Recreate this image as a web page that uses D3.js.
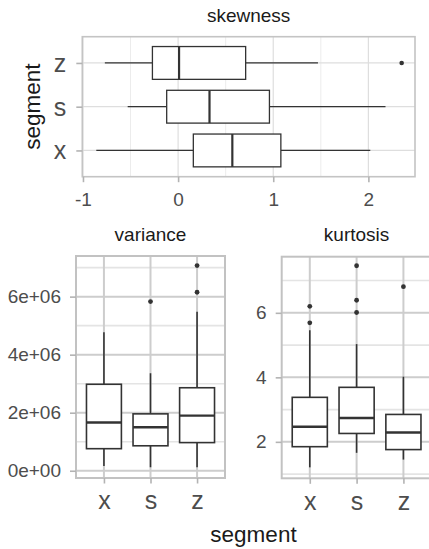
<!DOCTYPE html>
<html>
<head>
<meta charset="utf-8">
<script src="https://cdn.jsdelivr.net/npm/d3@7"></script>
<style>
  body { margin: 0; background: #fff; }
  svg { display: block; font-family: "Liberation Sans", Arial, sans-serif; }
</style>
</head>
<body>
<div id="chart"></div>
<script>
// Data: [lower whisker, Q1, median, Q3, upper whisker]
var segments = ["x", "s", "z"];

var skewness = [[-0.86, 0.16, 0.57, 1.08, 2.02],
                [-0.53, -0.12, 0.33, 0.96, 2.18],
                [-0.77, -0.27, 0.01, 0.71, 1.47]];
var skewnessOutliers = [[], [], [2.35]];
var skewnessTicks = [-1, 0, 1, 2];
var skewnessMinor = [-0.5, 0.5, 1.5];

var variance = [[0.16e6, 0.76e6, 1.66e6, 2.98e6, 4.77e6],
                [0.12e6, 0.86e6, 1.50e6, 1.96e6, 3.36e6],
                [0.12e6, 0.97e6, 1.90e6, 2.86e6, 5.48e6]];
var varianceOutliers = [[], [5.83e6], [6.15e6, 7.07e6]];
var varianceTicks = [0, 2e6, 4e6, 6e6];
var varianceLabels = ["0e+00", "2e+06", "4e+06", "6e+06"];
var varianceMinor = [1e6, 3e6, 5e6, 7e6];

var kurtosis = [[1.21, 1.85, 2.47, 3.38, 5.46],
                [1.66, 2.26, 2.74, 3.69, 5.03],
                [1.45, 1.76, 2.29, 2.85, 4.02]];
var kurtosisOutliers = [[5.69, 6.20], [6.01, 6.39, 7.46], [6.81]];
var kurtosisTicks = [2, 4, 6];
var kurtosisMinor = [1, 3, 5, 7];

var svg = d3.select("#chart")
            .append("svg")
            .attr("width", 429)
            .attr("height", 549);

var boxColor = "#333333",
    labelColor = "#4d4d4d";

// ---------- top panel: skewness (horizontal boxes) ----------
var tp = { left: 82.3, right: 415, top: 36.7, bottom: 176.7 };

var xSkew = d3.scaleLinear()
              .domain([-1.007, 2.49])
              .range([tp.left, tp.right]);

var ySkew = d3.scalePoint()
              .domain(["z", "s", "x"])
              .range([tp.top, tp.bottom])
              .padding(0.6);

var gTop = svg.append("g");

gTop.append("rect")
    .attr("x", tp.left).attr("y", tp.top)
    .attr("width", tp.right - tp.left).attr("height", tp.bottom - tp.top)
    .attr("fill", "#fff");

// grid
gTop.selectAll(".minor").data(skewnessMinor).enter().append("line")
    .attr("x1", xSkew).attr("x2", xSkew)
    .attr("y1", tp.top).attr("y2", tp.bottom)
    .attr("stroke", "#ececec").attr("stroke-width", 1);
gTop.selectAll(".majorx").data(skewnessTicks).enter().append("line")
    .attr("x1", xSkew).attr("x2", xSkew)
    .attr("y1", tp.top).attr("y2", tp.bottom)
    .attr("stroke", "#dedede").attr("stroke-width", 1.2);
gTop.selectAll(".majory").data(segments).enter().append("line")
    .attr("x1", tp.left).attr("x2", tp.right)
    .attr("y1", ySkew).attr("y2", ySkew)
    .attr("stroke", "#dedede").attr("stroke-width", 1.2);

// boxes
var bh = ySkew.step() * 0.75;
var rows = gTop.selectAll(".row")
               .data(segments)
               .enter()
               .append("g");

rows.append("line")
    .attr("x1", function(d, i) { return xSkew(skewness[i][0]); })
    .attr("x2", function(d, i) { return xSkew(skewness[i][1]); })
    .attr("y1", ySkew).attr("y2", ySkew);
rows.append("line")
    .attr("x1", function(d, i) { return xSkew(skewness[i][3]); })
    .attr("x2", function(d, i) { return xSkew(skewness[i][4]); })
    .attr("y1", ySkew).attr("y2", ySkew);
rows.selectAll("line")
    .attr("stroke", boxColor).attr("stroke-width", 1.3);

rows.append("rect")
    .attr("x", function(d, i) { return xSkew(skewness[i][1]); })
    .attr("width", function(d, i) { return xSkew(skewness[i][3]) - xSkew(skewness[i][1]); })
    .attr("y", function(d) { return ySkew(d) - bh / 2; })
    .attr("height", bh)
    .attr("fill", "#fff").attr("stroke", boxColor).attr("stroke-width", 1.3);

rows.append("line")
    .attr("x1", function(d, i) { return xSkew(skewness[i][2]); })
    .attr("x2", function(d, i) { return xSkew(skewness[i][2]); })
    .attr("y1", function(d) { return ySkew(d) - bh / 2; })
    .attr("y2", function(d) { return ySkew(d) + bh / 2; })
    .attr("stroke", boxColor).attr("stroke-width", 2.2);

rows.selectAll("circle")
    .data(function(d, i) { return skewnessOutliers[i].map(function(v) { return [d, v]; }); })
    .enter().append("circle")
    .attr("cx", function(p) { return xSkew(p[1]); })
    .attr("cy", function(p) { return ySkew(p[0]); })
    .attr("r", 2.3).attr("fill", boxColor);

gTop.append("rect")
    .attr("x", tp.left).attr("y", tp.top)
    .attr("width", tp.right - tp.left).attr("height", tp.bottom - tp.top)
    .attr("fill", "none").attr("stroke", "#c4c4c4").attr("stroke-width", 1.6);

// axes
var xAxisTop = d3.axisBottom(xSkew)
                 .tickValues(skewnessTicks)
                 .tickFormat(String)
                 .tickSizeInner(5.5).tickSizeOuter(0).tickPadding(10);
var yAxisTop = d3.axisLeft(ySkew)
                 .tickSizeInner(6).tickSizeOuter(0).tickPadding(10);

gTop.append("g")
    .attr("transform", "translate(0," + tp.bottom + ")")
    .call(xAxisTop)
    .call(function(g) { g.selectAll("text").style("font-size", "19px"); });
gTop.append("g")
    .attr("transform", "translate(" + tp.left + ",0)")
    .call(yAxisTop)
    .call(function(g) { g.selectAll("text").style("font-size", "25px").attr("dy", "0.34em"); });

gTop.append("text")
    .attr("x", (tp.left + tp.right) / 2).attr("y", 21.7)
    .attr("text-anchor", "middle")
    .style("font-size", "19px").attr("fill", "#1a1a1a")
    .text("skewness");

gTop.append("text")
    .attr("transform", "translate(40," + ((tp.top + tp.bottom) / 2) + ") rotate(-90)")
    .attr("text-anchor", "middle")
    .style("font-size", "22.5px").attr("fill", "#1a1a1a")
    .text("segment");

// ---------- bottom panels: vertical boxes ----------
function drawPanel(p) {
  var g = svg.append("g");

  var x = d3.scalePoint()
            .domain(segments)
            .range([p.left, p.right])
            .padding(0.6);
  var y = d3.scaleLinear()
            .domain(p.domain)
            .range([p.bottom, p.top]);

  g.append("rect")
   .attr("x", p.left).attr("y", p.top)
   .attr("width", p.right - p.left).attr("height", p.bottom - p.top)
   .attr("fill", "#fff");

  // grid
  g.selectAll(".minor").data(p.minor).enter().append("line")
   .attr("x1", p.left).attr("x2", p.right)
   .attr("y1", y).attr("y2", y)
   .attr("stroke", "#e4e4e4").attr("stroke-width", 1.6);
  g.selectAll(".majory").data(p.ticks).enter().append("line")
   .attr("x1", p.left).attr("x2", p.right)
   .attr("y1", y).attr("y2", y)
   .attr("stroke", "#cdcdcd").attr("stroke-width", 2);
  g.selectAll(".majorx").data(segments).enter().append("line")
   .attr("x1", x).attr("x2", x)
   .attr("y1", p.top).attr("y2", p.bottom)
   .attr("stroke", "#cdcdcd").attr("stroke-width", 2);

  var bw = x.step() * 0.75;
  var cols = g.selectAll(".col")
              .data(segments)
              .enter()
              .append("g");

  cols.append("line")
      .attr("y1", function(d, i) { return y(p.stats[i][0]); })
      .attr("y2", function(d, i) { return y(p.stats[i][1]); })
      .attr("x1", x).attr("x2", x);
  cols.append("line")
      .attr("y1", function(d, i) { return y(p.stats[i][3]); })
      .attr("y2", function(d, i) { return y(p.stats[i][4]); })
      .attr("x1", x).attr("x2", x);
  cols.selectAll("line")
      .attr("stroke", boxColor).attr("stroke-width", 1.6);

  cols.append("rect")
      .attr("x", function(d) { return x(d) - bw / 2; })
      .attr("width", bw)
      .attr("y", function(d, i) { return y(p.stats[i][3]); })
      .attr("height", function(d, i) { return y(p.stats[i][1]) - y(p.stats[i][3]); })
      .attr("fill", "#fff").attr("stroke", boxColor).attr("stroke-width", 1.6);

  cols.append("line")
      .attr("x1", function(d) { return x(d) - bw / 2; })
      .attr("x2", function(d) { return x(d) + bw / 2; })
      .attr("y1", function(d, i) { return y(p.stats[i][2]); })
      .attr("y2", function(d, i) { return y(p.stats[i][2]); })
      .attr("stroke", boxColor).attr("stroke-width", 2.4);

  cols.selectAll("circle")
      .data(function(d, i) { return p.outliers[i].map(function(v) { return [d, v]; }); })
      .enter().append("circle")
      .attr("cx", function(q) { return x(q[0]); })
      .attr("cy", function(q) { return y(q[1]); })
      .attr("r", 2.4).attr("fill", boxColor);

  g.append("rect")
   .attr("x", p.left).attr("y", p.top)
   .attr("width", p.right - p.left).attr("height", p.bottom - p.top)
   .attr("fill", "none").attr("stroke", "#c2c2c2").attr("stroke-width", 2);

  var yAxis = d3.axisLeft(y)
                .tickValues(p.ticks)
                .tickFormat(function(d, i) { return p.labels[i]; })
                .tickSizeInner(6).tickSizeOuter(0).tickPadding(9);
  var xAxis = d3.axisBottom(x)
                .tickSizeInner(5.5).tickSizeOuter(0).tickPadding(8);

  g.append("g")
   .attr("transform", "translate(" + p.left + ",0)")
   .call(yAxis)
   .call(function(a) { a.selectAll("text").style("font-size", "19px"); });
  g.append("g")
   .attr("transform", "translate(0," + p.bottom + ")")
   .call(xAxis)
   .call(function(a) { a.selectAll("text").style("font-size", "25px"); });

  g.append("text")
   .attr("x", (p.left + p.right) / 2).attr("y", 240.7)
   .attr("text-anchor", "middle")
   .style("font-size", "19px").attr("fill", "#1a1a1a")
   .text(p.title);
}

drawPanel({ title: "variance", left: 76, right: 225, top: 256, bottom: 478,
            domain: [-0.25e6, 7.40e6], stats: variance, outliers: varianceOutliers,
            ticks: varianceTicks, labels: varianceLabels, minor: varianceMinor });

drawPanel({ title: "kurtosis", left: 281.7, right: 431.5, top: 256.7, bottom: 478.3,
            domain: [0.87, 7.74], stats: kurtosis, outliers: kurtosisOutliers,
            ticks: kurtosisTicks, labels: kurtosisTicks.map(String), minor: kurtosisMinor });

// shared x title
svg.append("text")
   .attr("x", 253.5).attr("y", 541.7)
   .attr("text-anchor", "middle")
   .style("font-size", "22.5px").attr("fill", "#1a1a1a")
   .text("segment");

// axis styling
svg.selectAll(".domain").remove();
svg.selectAll(".tick line").attr("stroke", "#b3b3b3").attr("stroke-width", 1.6);
svg.selectAll(".tick text").attr("fill", labelColor).style("font-family", "'Liberation Sans', Arial, sans-serif");
</script>
</body>
</html>
